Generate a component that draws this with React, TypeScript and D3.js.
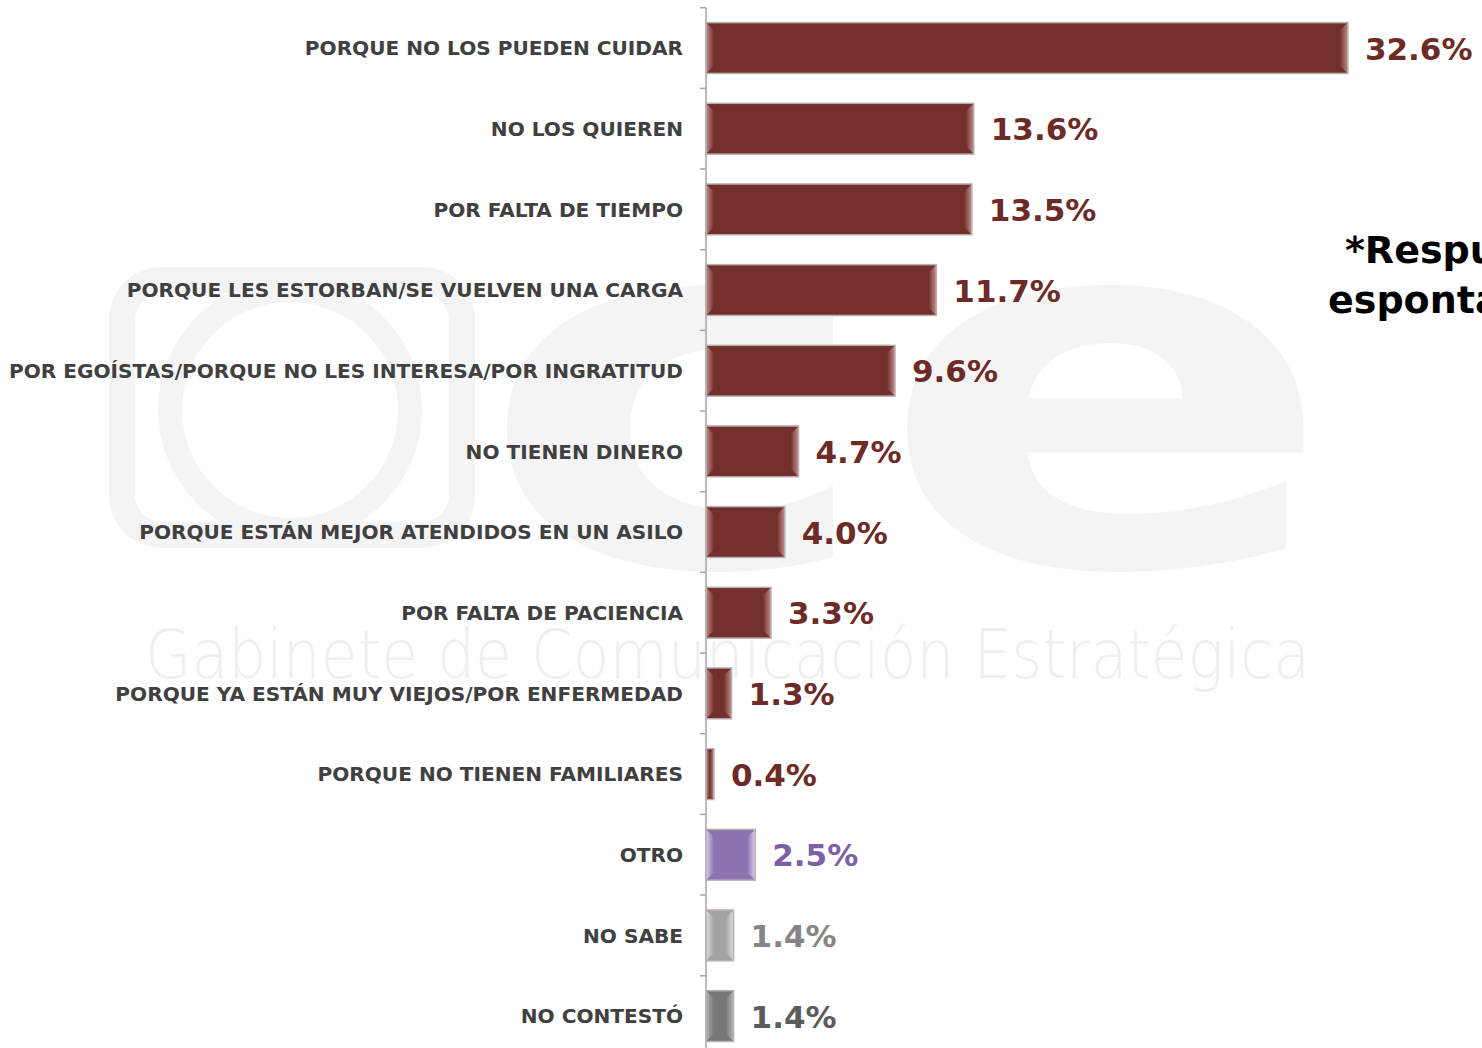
import React from 'react';
import * as d3 from 'd3';

const width = 1482;
const height = 1048;

const categories = [
  'PORQUE NO LOS PUEDEN CUIDAR',
  'NO LOS QUIEREN',
  'POR FALTA DE TIEMPO',
  'PORQUE LES ESTORBAN/SE VUELVEN UNA CARGA',
  'POR EGOÍSTAS/PORQUE NO LES INTERESA/POR INGRATITUD',
  'NO TIENEN DINERO',
  'PORQUE ESTÁN MEJOR ATENDIDOS EN UN ASILO',
  'POR FALTA DE PACIENCIA',
  'PORQUE YA ESTÁN MUY VIEJOS/POR ENFERMEDAD',
  'PORQUE NO TIENEN FAMILIARES',
  'OTRO',
  'NO SABE',
  'NO CONTESTÓ',
];
const values = [32.6, 13.6, 13.5, 11.7, 9.6, 4.7, 4.0, 3.3, 1.3, 0.4, 2.5, 1.4, 1.4];
const groups = [
  'razon', 'razon', 'razon', 'razon', 'razon', 'razon', 'razon', 'razon', 'razon', 'razon',
  'otro', 'nosabe', 'nocontesto',
];
const groupKeys = ['razon', 'otro', 'nosabe', 'nocontesto'];
const noteLines = ['*Respuesta', 'espontánea'];
const watermarkText = 'Gabinete de Comunicación Estratégica';

// colours per group
const barFill = d3.scaleOrdinal<string, string>().domain(groupKeys).range(['#722f2b', '#8b74b1', '#a3a3a3', '#777777']);
const bevelFill = d3.scaleOrdinal<string, string>().domain(groupKeys).range(['#c08e8b', '#d9cdef', '#dedede', '#b4b4b4']);
const labelFill = d3.scaleOrdinal<string, string>().domain(groupKeys).range(['#6e2a27', '#7b60a8', '#858585', '#5c5c5c']);

const axisX = 706;
const fmt = d3.format('.1f');

function App() {
  const x = d3.scaleLinear().domain([0, 35]).range([axisX, axisX + 35 * 19.69]);
  const y = d3.scaleBand<string>().domain(categories).range([7.7, 7.7 + 13 * 80.67]).paddingInner(0.37).paddingOuter(0.185);
  const step = y.step();
  const ticks = d3.range(categories.length + 1).map(i => 7.7 + i * step);

  const bars = categories.map((c, i) => {
    const x0 = x(0);
    const x1 = x(values[i]);
    const y0 = y(c) as number;
    const y1 = y0 + y.bandwidth();
    const b = Math.min(8, (x1 - x0) / 2);
    return { c, i, x0, x1, y0, y1, b, g: groups[i] };
  });

  return (
    <svg width={width} height={height} style={{ position: 'absolute', left: 0, top: 0, background: '#fff' }}>
      <defs>
        {groupKeys.map(g => (
          <React.Fragment key={g}>
            <linearGradient id={'bl-' + g} x1="0" x2="1" y1="0" y2="0">
              <stop offset="0" stopColor={bevelFill(g)} />
              <stop offset="1" stopColor={barFill(g)} />
            </linearGradient>
            <linearGradient id={'br-' + g} x1="0" x2="1" y1="0" y2="0">
              <stop offset="0" stopColor={barFill(g)} />
              <stop offset="1" stopColor={bevelFill(g)} />
            </linearGradient>
          </React.Fragment>
        ))}
      </defs>

      {/* faint watermark */}
      <g fill="none" stroke="#f4f4f4">
        <rect x={122} y={280} width={340} height={255} rx={40} strokeWidth={26} />
        <circle cx={290} cy={410} r={120} strokeWidth={24} />
      </g>
      <text x={478} y={565} fontFamily="DejaVu Sans" fontWeight="bold" fontSize={500} fill="#f4f4f4" textLength={858} lengthAdjust="spacingAndGlyphs">ce</text>
      <text x={145} y={678} fontFamily="DejaVu Sans" fontWeight={200} fontSize={68} fill="#efefef" textLength={1165} lengthAdjust="spacingAndGlyphs">{watermarkText}</text>

      {/* axis */}
      <line x1={axisX} x2={axisX} y1={ticks[0]} y2={height} stroke="#a6a6a6" strokeWidth={1.5} />
      {ticks.map((t, i) => (
        <line key={i} x1={axisX - 6} x2={axisX} y1={t} y2={t} stroke="#a6a6a6" strokeWidth={1.5} />
      ))}

      {/* bars */}
      {bars.map(d => (
        <g key={d.c}>
          <rect x={d.x0} y={d.y0} width={d.x1 - d.x0} height={d.y1 - d.y0} fill={barFill(d.g)} />
          <polygon
            points={`${d.x0},${d.y0} ${d.x0 + d.b},${d.y0 + d.b} ${d.x0 + d.b},${d.y1 - d.b} ${d.x0},${d.y1}`}
            fill={`url(#bl-${d.g})`}
          />
          <polygon
            points={`${d.x1},${d.y0} ${d.x1 - d.b},${d.y0 + d.b} ${d.x1 - d.b},${d.y1 - d.b} ${d.x1},${d.y1}`}
            fill={`url(#br-${d.g})`}
          />
          <rect x={d.x0} y={d.y0} width={d.x1 - d.x0} height={d.y1 - d.y0} fill="none" stroke="#b9b0b0" strokeWidth={1.5} />
        </g>
      ))}

      {/* category labels */}
      {categories.map(c => (
        <text key={c} x={683} y={(y(c) as number) + y.bandwidth() / 2} dy="0.36em" textAnchor="end"
          fontFamily="DejaVu Sans" fontWeight="bold" fontSize={20.1} fill="#404040">{c}</text>
      ))}

      {/* value labels */}
      {bars.map(d => (
        <text key={d.c} x={d.x1 + 17} y={(d.y0 + d.y1) / 2} dy="0.37em"
          fontFamily="DejaVu Sans" fontWeight="bold" fontSize={31} fill={labelFill(d.g)}>{fmt(values[d.i]) + '%'}</text>
      ))}

      {/* note */}
      {noteLines.map((l, i) => (
        <text key={l} x={i === 0 ? 1345 : 1328} y={263 + i * 50} fontFamily="DejaVu Sans" fontWeight="bold" fontSize={38} fill="#000">{l}</text>
      ))}
    </svg>
  );
}

export default App;
